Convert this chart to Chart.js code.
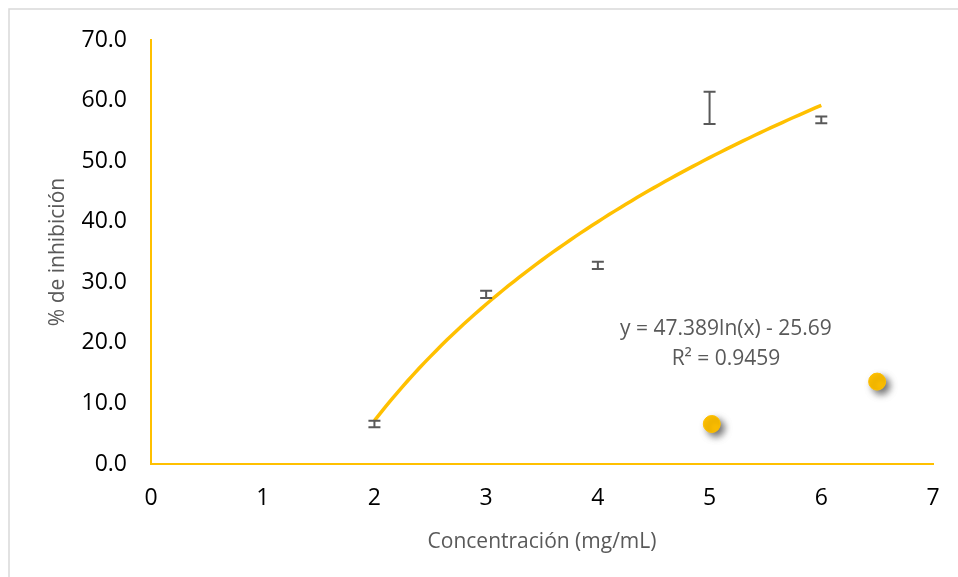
<!DOCTYPE html>
<html>
<head>
<meta charset="utf-8">
<script src="https://cdn.jsdelivr.net/npm/chart.js@4/dist/chart.umd.min.js"></script>
<style>
  html, body { margin: 0; padding: 0; background: #fff; }
  #wrap { width: 958px; height: 577px; }
</style>
</head>
<body>
<div id="wrap"><canvas id="inhibitionChart" width="958" height="577"></canvas></div>
<script>
// measured series (error bars only, markers hidden)
const concentrations = [2, 3, 4, 5, 6];
const inhibition = [6.6, 28.0, 32.8, 58.8, 56.8];
const inhibitionErr = [0.55, 0.6, 0.6, 2.65, 0.55];

// the two loose yellow points
const extraX = [5.02, 6.5];
const extraY = [6.6, 13.6];

// logarithmic trendline as shown in the label
const trendA = 47.389;
const trendB = -25.69;
const trendText = ["y = 47.389ln(x) - 25.69", "R² = 0.9459"];

const yTicks = [0, 10, 20, 30, 40, 50, 60, 70];
const xTicks = [0, 1, 2, 3, 4, 5, 6, 7];

const gold = "#FFC000";
const grey = "#595959";
const fontFamily = "'Open Sans', 'Liberation Sans', sans-serif";

// sample the fitted curve over the measured range
const trendPoints = [];
for (let i = 0; i <= 80; i++) {
  const x = concentrations[0] + (concentrations[concentrations.length - 1] - concentrations[0]) * i / 80;
  trendPoints.push({ x: x, y: trendA * Math.log(x) + trendB });
}

const framePlugin = {
  id: "frame",
  beforeDraw(chart) {
    const ctx = chart.ctx;
    ctx.save();
    ctx.fillStyle = "#fff";
    ctx.fillRect(0, 0, chart.width, chart.height);
    ctx.strokeStyle = "#d9d9d9";
    ctx.lineWidth = 1.5;
    ctx.strokeRect(9, 9, chart.width + 20, chart.height + 20);
    ctx.restore();
  }
};

const errorBarPlugin = {
  id: "errorBars",
  afterDatasetsDraw(chart) {
    const ctx = chart.ctx;
    const xs = chart.scales.x;
    const ys = chart.scales.y;
    ctx.save();
    ctx.strokeStyle = grey;
    ctx.lineWidth = 2;
    concentrations.forEach((c, i) => {
      const px = xs.getPixelForValue(c);
      const top = ys.getPixelForValue(inhibition[i] + inhibitionErr[i]);
      const bot = ys.getPixelForValue(inhibition[i] - inhibitionErr[i]);
      ctx.beginPath();
      ctx.moveTo(px, top); ctx.lineTo(px, bot);
      ctx.moveTo(px - 6, top); ctx.lineTo(px + 6, top);
      ctx.moveTo(px - 6, bot); ctx.lineTo(px + 6, bot);
      ctx.stroke();
    });
    ctx.restore();
  }
};

const shadowPlugin = {
  id: "dotShadow",
  beforeDatasetDraw(chart, args) {
    if (args.index !== 2) return;
    const ctx = chart.ctx;
    ctx.save();
    ctx.shadowColor = "rgba(0,0,0,0.55)";
    ctx.shadowBlur = 7;
    ctx.shadowOffsetX = 4;
    ctx.shadowOffsetY = 4;
  },
  afterDatasetDraw(chart, args) {
    if (args.index !== 2) return;
    chart.ctx.restore();
  }
};

const labelPlugin = {
  id: "trendLabel",
  afterDraw(chart) {
    const ctx = chart.ctx;
    const area = chart.chartArea;
    ctx.save();
    ctx.fillStyle = grey;
    ctx.font = "21px " + fontFamily;
    ctx.textBaseline = "middle";
    ctx.textAlign = "center";
    ctx.fillText(trendText[0], area.left + 575, area.top + 289);
    ctx.fillText(trendText[1], area.left + 575, area.top + 319);
    ctx.restore();
  }
};

new Chart(document.getElementById("inhibitionChart"), {
  type: "scatter",
  data: {
    datasets: [
      {
        label: "Trend",
        type: "line",
        data: trendPoints,
        borderColor: gold,
        borderWidth: 3.5,
        pointRadius: 0,
        fill: false,
        tension: 0
      },
      {
        label: "% inhibición",
        data: concentrations.map((c, i) => ({ x: c, y: inhibition[i] })),
        pointRadius: 0,
        showLine: false
      },
      {
        label: "Extra",
        data: extraX.map((x, i) => ({ x: x, y: extraY[i] })),
        backgroundColor: gold,
        borderColor: gold,
        pointRadius: 8.5,
        pointHoverRadius: 8.5,
        showLine: false
      }
    ]
  },
  options: {
    responsive: false,
    animation: false,
    events: [],
    layout: { padding: { top: 40, right: 25, left: 0, bottom: 0 } },
    plugins: {
      legend: { display: false },
      tooltip: { enabled: false }
    },
    scales: {
      x: {
        type: "linear",
        min: 0,
        max: 7,
        afterBuildTicks: (s) => { s.ticks = xTicks.map(v => ({ value: v })); },
        afterFit: (s) => { s.height = 113; s.paddingRight = 0; },
        grid: { display: false, drawTicks: false },
        border: { display: true, color: gold, width: 2 },
        ticks: {
          color: "#000",
          padding: 21,
          font: { family: fontFamily, size: 23 },
          callback: (v) => String(v)
        },
        title: {
          display: true,
          text: "Concentración (mg/mL)",
          color: grey,
          font: { family: fontFamily, size: 21 },
          padding: { top: 0, bottom: 22 }
        }
      },
      y: {
        type: "linear",
        min: 0,
        max: 70,
        afterBuildTicks: (s) => { s.ticks = yTicks.map(v => ({ value: v })); },
        afterFit: (s) => { s.width = 151; s.paddingTop = 0; },
        grid: { display: false, drawTicks: false },
        border: { display: true, color: gold, width: 2 },
        ticks: {
          color: "#000",
          padding: 24,
          font: { family: fontFamily, size: 23 },
          callback: (v) => Number(v).toFixed(1)
        },
        title: {
          display: true,
          text: "% de inhibición",
          color: grey,
          font: { family: fontFamily, size: 21 },
          padding: { top: 45, bottom: 0 }
        }
      }
    }
  },
  plugins: [framePlugin, errorBarPlugin, shadowPlugin, labelPlugin]
});
</script>
</body>
</html>
